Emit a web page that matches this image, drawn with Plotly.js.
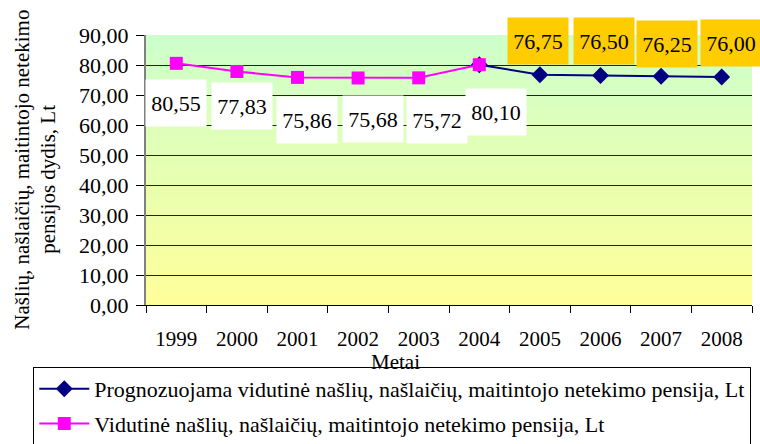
<!DOCTYPE html>
<html>
<head>
<meta charset="utf-8">
<script src="https://cdn.plot.ly/plotly-3.0.1.min.js"></script>
<style>html,body{margin:0;padding:0;background:#fff;}#chart{width:760px;height:444px;}</style>
</head>
<body>
<div id="chart"></div>
<script>
// ---- data ----
var years = ['1999','2000','2001','2002','2003','2004','2005','2006','2007','2008'];
var actualYears = ['1999','2000','2001','2002','2003','2004'];
var actualValues = [80.55, 77.83, 75.86, 75.68, 75.72, 80.10];
var forecastYears = ['2004','2005','2006','2007','2008'];
var forecastValues = [80.10, 76.75, 76.50, 76.25, 76.00];
var forecastLabelYears = ['2005','2006','2007','2008'];
var forecastLabelValues = [76.75, 76.50, 76.25, 76.00];
var actualName = 'Vidutinė našlių, našlaičių, maitintojo netekimo pensija, Lt';
var forecastName = 'Prognozuojama vidutinė našlių, našlaičių, maitintojo netekimo pensija, Lt';

// ---- label offsets (style) ----
var actualShiftX = [0, 4.6, 9, 14.4, 17.8, 17];
var actualShiftY = [-40, -34, -42.6, -41.5, -42, -47];
var forecastShiftX = [-2.4, 3, 6, 9];
var forecastShiftY = [34, 35, 32, 34.5];

var FONT = 'Liberation Serif';
function fmt(v){ return v.toFixed(2).replace('.', ','); }

var traces = [
  {
    x: forecastYears, y: forecastValues, name: forecastName,
    type: 'scatter', mode: 'lines+markers',
    line: {color: '#000080', width: 2},
    marker: {symbol: 'diamond', size: 13, color: '#000080'},
    legendgroup: 'a'
  },
  {
    x: actualYears, y: actualValues, name: actualName,
    type: 'scatter', mode: 'lines+markers',
    line: {color: '#ff00ff', width: 2},
    marker: {symbol: 'square', size: 13, color: '#ff00ff'},
    legendgroup: 'b'
  }
];

var annotations = [];
actualYears.forEach(function(yr, i){
  annotations.push({
    x: years.indexOf(yr), y: actualValues[i], xref: 'x', yref: 'y',
    text: fmt(actualValues[i]), showarrow: false,
    xanchor: 'center', yanchor: 'middle',
    xshift: actualShiftX[i], yshift: actualShiftY[i],
    width: 58, height: 44, borderpad: 1,
    bgcolor: '#ffffff',
    font: {family: FONT, size: 22, color: '#000'}
  });
});
forecastLabelYears.forEach(function(yr, i){
  annotations.push({
    x: years.indexOf(yr), y: forecastLabelValues[i], xref: 'x', yref: 'y',
    text: fmt(forecastLabelValues[i]), showarrow: false,
    xanchor: 'center', yanchor: 'middle',
    xshift: forecastShiftX[i], yshift: forecastShiftY[i],
    width: 58, height: 44, borderpad: 1,
    bgcolor: '#ffcc00',
    font: {family: FONT, size: 22, color: '#000'}
  });
});
annotations.push({
  text: 'Našlių, našlaičių, maitintojo netekimo', textangle: -90,
  xref: 'paper', yref: 'paper', x: -0.205, y: 0.50,
  xanchor: 'center', yanchor: 'middle', showarrow: false,
  font: {family: FONT, size: 21, color: '#000'}
});
annotations.push({
  text: 'pensijos dydis, Lt', textangle: -90,
  xref: 'paper', yref: 'paper', x: -0.162, y: 0.467,
  xanchor: 'center', yanchor: 'middle', showarrow: false,
  font: {family: FONT, size: 21, color: '#000'}
});
annotations.push({
  text: 'Metai',
  xref: 'paper', yref: 'paper', x: 0.411, y: -0.211,
  xanchor: 'center', yanchor: 'middle', showarrow: false,
  font: {family: FONT, size: 21, color: '#000'}
});

// gradient background strips
var shapes = [];
var NSTRIP = 90;
var colTop = [204, 255, 204], colBot = [255, 255, 153];
for (var i = 0; i < NSTRIP; i++) {
  var t = (i + 0.5) / NSTRIP; // 0 bottom -> 1 top
  var c = colBot.map(function(b, k){ return Math.round(b + (colTop[k] - b) * t); });
  shapes.push({
    type: 'rect', xref: 'paper', yref: 'paper',
    x0: 0, x1: 1, y0: i / NSTRIP, y1: Math.min(1, (i + 1) / NSTRIP + 0.002),
    fillcolor: 'rgb(' + c.join(',') + ')', line: {width: 0}, layer: 'below'
  });
}

var layout = {
  width: 760, height: 444,
  margin: {l: 146, r: 8, t: 35, b: 139, autoexpand: false},
  paper_bgcolor: '#ffffff',
  plot_bgcolor: 'rgba(0,0,0,0)',
  separators: ',.',
  font: {family: FONT, size: 21, color: '#000'},
  showlegend: true,
  legend: {
    x: -0.186, y: -0.2296, xanchor: 'left', yanchor: 'top',
    bgcolor: '#ffffff', bordercolor: '#000', borderwidth: 1,
    font: {family: FONT, size: 22, color: '#000'},
    traceorder: 'grouped', tracegroupgap: 3, itemwidth: 50
  },
  xaxis: {
    type: 'category', categoryorder: 'array', categoryarray: years,
    range: [-0.5, 9.5],
    showgrid: false, zeroline: false,
    showline: true, linecolor: '#000', linewidth: 1,
    ticks: 'outside', ticklen: 7, tickcolor: '#000', tickson: 'boundaries',
    ticklabelstandoff: 15,
    tickfont: {family: FONT, size: 21, color: '#000'}
  },
  yaxis: {
    range: [0, 90], dtick: 10, tick0: 0, tickformat: '.2f',
    showgrid: true, gridcolor: '#222', gridwidth: 1,
    zeroline: false,
    showline: true, linecolor: '#808080', linewidth: 2,
    ticks: 'outside', ticklen: 8, tickcolor: '#000',
    ticklabelstandoff: 3,
    tickfont: {family: FONT, size: 22, color: '#000'}
  },
  shapes: shapes,
  annotations: annotations,
  hovermode: false
};

Plotly.newPlot('chart', traces, layout, {displayModeBar: false, staticPlot: true});
</script>
</body>
</html>
